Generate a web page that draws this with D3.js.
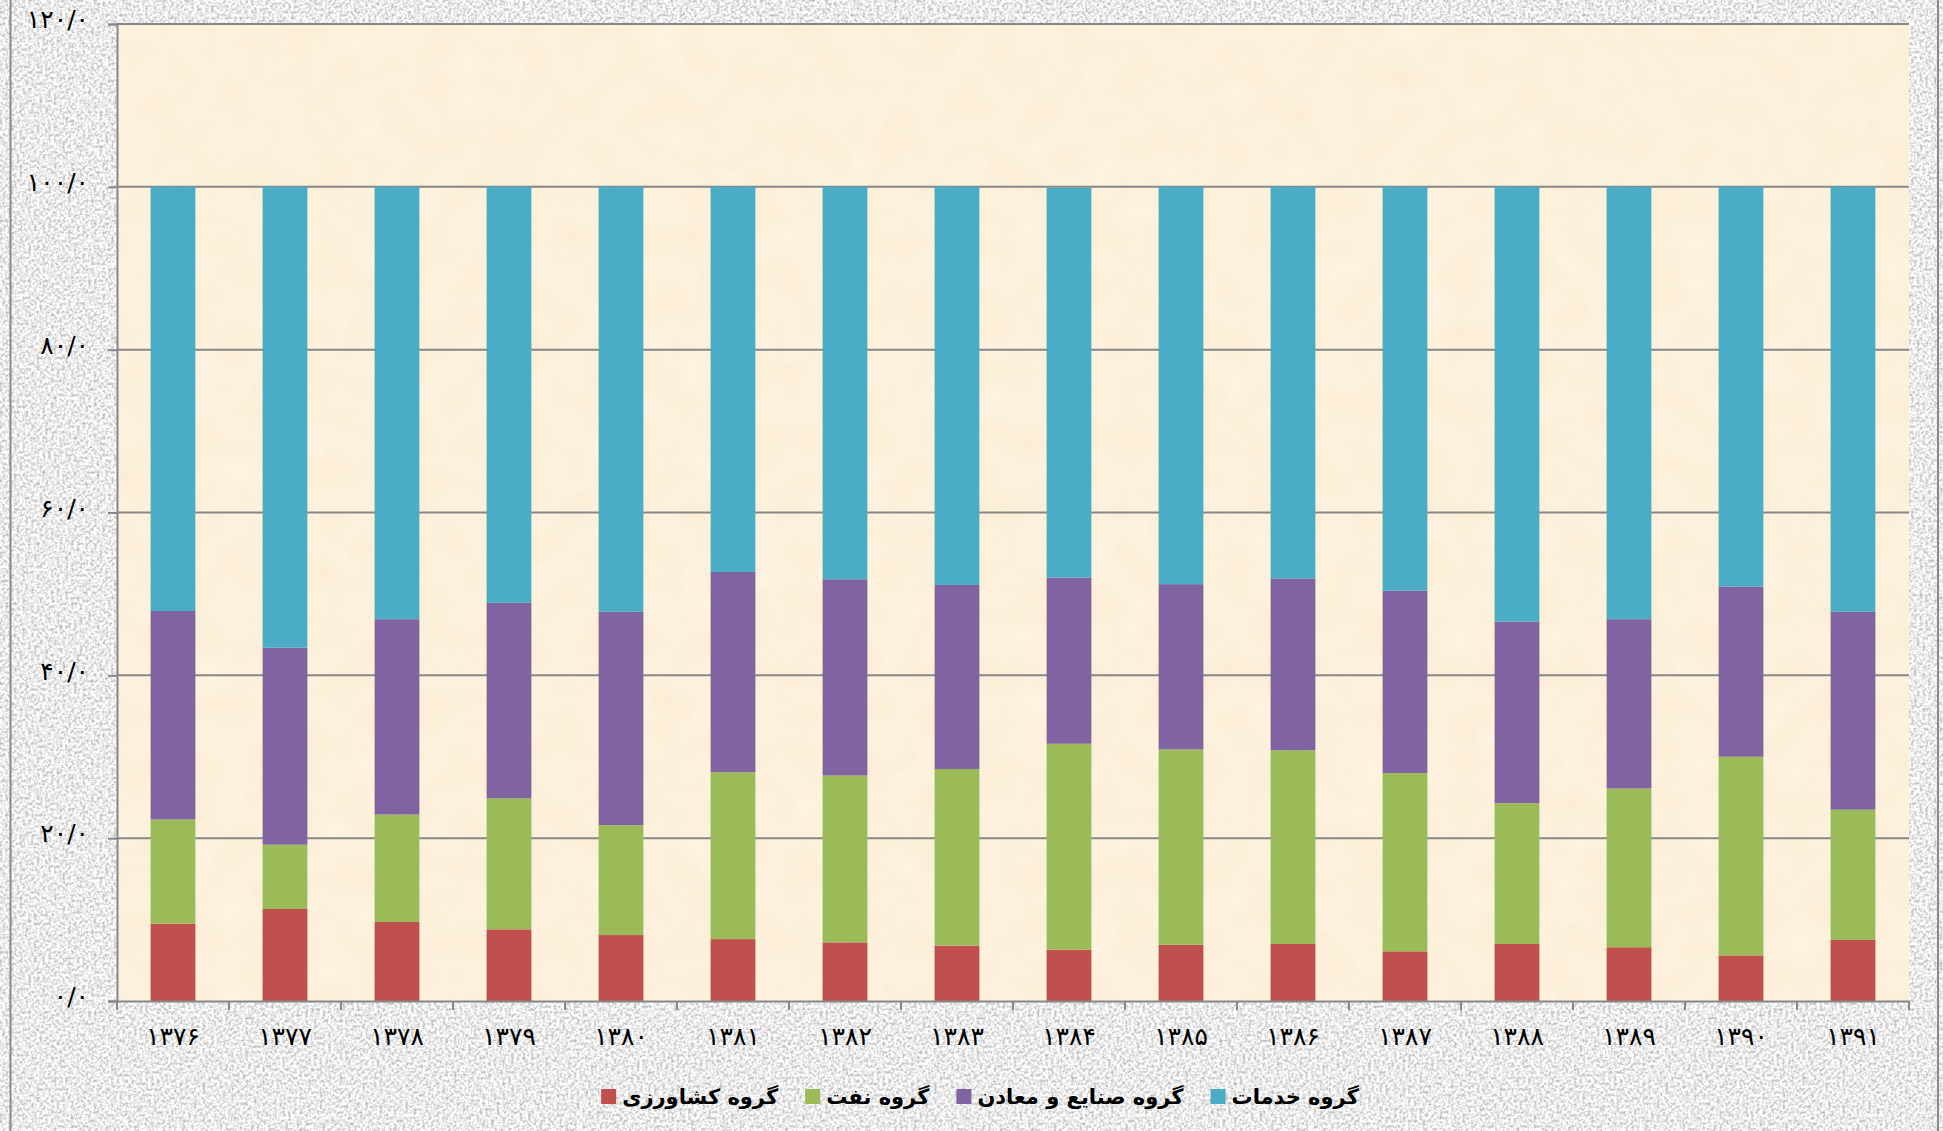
<!DOCTYPE html>
<html>
<head>
<meta charset="utf-8">
<script src="https://cdn.jsdelivr.net/npm/d3@7/dist/d3.min.js"></script>
<style>
  body { margin: 0; background: #e6e6e6; }
  svg { display: block; }
</style>
</head>
<body>
<svg id="chart"></svg>
<script>
// Years (Persian calendar) on the x axis
const years = ["۱۳۷۶", "۱۳۷۷", "۱۳۷۸", "۱۳۷۹", "۱۳۸۰", "۱۳۸۱", "۱۳۸۲", "۱۳۸۳",
  "۱۳۸۴", "۱۳۸۵", "۱۳۸۶", "۱۳۸۷", "۱۳۸۸", "۱۳۸۹", "۱۳۹۰", "۱۳۹۱"];

// Share of each sector (percent)
const agriculture = [9.5, 11.3, 9.7, 8.8, 8.1, 7.6, 7.2, 6.8, 6.3, 6.9, 7.0, 6.1, 7.0, 6.6, 5.6, 7.5];
const oil = [12.8, 7.9, 13.2, 16.1, 13.5, 20.5, 20.5, 21.7, 25.3, 24.0, 23.8, 21.9, 17.3, 19.5, 24.4, 16.0];
const industry = [25.6, 24.2, 24.0, 24.0, 26.2, 24.6, 24.1, 22.6, 20.4, 20.3, 21.1, 22.4, 22.3, 20.8, 20.9, 24.3];
const services = [52.1, 56.6, 53.1, 51.1, 52.2, 47.3, 48.2, 48.9, 47.9, 48.8, 48.1, 49.6, 53.4, 53.1, 49.1, 52.2];

const yTicks = [0, 20, 40, 60, 80, 100, 120];
const seriesKeys = ["agriculture", "oil", "industry", "services"];
const seriesNames = ["گروه کشاورزی", "گروه نفت", "گروه صنایع و معادن", "گروه خدمات"];
const seriesColors = ["#C0504D", "#9BBB59", "#8064A2", "#4BACC6"];

const toFa = (s) =>
  String(s).replace(/\d/g, (d) => "۰۱۲۳۴۵۶۷۸۹"[d]).replace(".", "/");

const W = 1943, H = 1131;
const margin = { top: 24, right: 34, bottom: 130, left: 117 };
const width = W - margin.left - margin.right;
const height = H - margin.top - margin.bottom;
const fontFamily = "'DejaVu Sans', sans-serif";
const axisColor = "#878787";

const svg = d3.select("#chart").attr("width", W).attr("height", H);

// Textures: grey paper outside, parchment inside the plot
const defs = svg.append("defs");
const grain = defs.append("filter").attr("id", "grain")
  .attr("color-interpolation-filters", "sRGB")
  .attr("x", 0).attr("y", 0).attr("width", "100%").attr("height", "100%");
grain.append("feTurbulence").attr("type", "fractalNoise")
  .attr("baseFrequency", 0.35).attr("numOctaves", 3).attr("seed", 4);
grain.append("feColorMatrix").attr("type", "matrix")
  .attr("values", "0.6 0 0 0 0.62  0.6 0 0 0 0.62  0.6 0 0 0 0.62  0 0 0 0 1");

const parchment = defs.append("filter").attr("id", "parchment")
  .attr("color-interpolation-filters", "sRGB")
  .attr("x", 0).attr("y", 0).attr("width", "100%").attr("height", "100%");
parchment.append("feTurbulence").attr("type", "fractalNoise")
  .attr("baseFrequency", 0.03).attr("numOctaves", 3).attr("seed", 7);
parchment.append("feColorMatrix").attr("type", "matrix")
  .attr("values", "0.02 0 0 0 0.982  0.035 0 0 0 0.925  0.06 0 0 0 0.83  0 0 0 0 1");

svg.append("rect").attr("width", W).attr("height", H).attr("filter", "url(#grain)");

// Outer frame (only the sides show)
svg.append("rect")
  .attr("x", 10.5).attr("y", -10)
  .attr("width", 1927.5).attr("height", H + 20)
  .attr("fill", "none").attr("stroke", "#8a8a8a").attr("stroke-width", 2);

const g = svg.append("g").attr("transform", `translate(${margin.left},${margin.top})`);

g.append("rect").attr("width", width).attr("height", height).attr("filter", "url(#parchment)");

// Build rows and stack them
const rows = years.map((year, i) => ({
  year,
  agriculture: agriculture[i],
  oil: oil[i],
  industry: industry[i],
  services: services[i],
}));
const stacked = d3.stack().keys(seriesKeys)(rows);

// Scales
const x = d3.scaleBand().domain(years).range([0, width]).paddingInner(0.6).paddingOuter(0.3);
const y = d3.scaleLinear().domain([0, 120]).range([height, 0]);

// Grid lines
g.append("g")
  .selectAll("line")
  .data(yTicks.filter((d) => d > 0))
  .enter()
  .append("line")
  .attr("x1", 0)
  .attr("x2", width)
  .attr("y1", (d) => y(d))
  .attr("y2", (d) => y(d))
  .attr("stroke", axisColor)
  .attr("stroke-width", 2);

// Bars
g.append("g")
  .selectAll("g")
  .data(stacked)
  .enter()
  .append("g")
  .attr("fill", (d, i) => seriesColors[i])
  .selectAll("rect")
  .data((d) => d)
  .enter()
  .append("rect")
  .attr("x", (d) => x(d.data.year))
  .attr("width", x.bandwidth())
  .attr("y", (d) => y(d[1]))
  .attr("height", (d) => y(d[0]) - y(d[1]));

// Y axis
const yAxis = g.append("g")
  .call(d3.axisLeft(y).tickValues(yTicks).tickSize(9).tickPadding(19)
    .tickFormat((d) => toFa(d.toFixed(1))));
yAxis.select(".domain").attr("stroke", axisColor).attr("stroke-width", 2);
yAxis.selectAll(".tick line").attr("stroke", axisColor).attr("stroke-width", 2);
yAxis.selectAll("text")
  .attr("dy", "0.15em")
  .style("font-family", fontFamily)
  .style("font-size", "25px")
  .style("fill", "#000");

// X axis: labels under each bar, ticks on category boundaries
const xAxis = g.append("g")
  .attr("transform", `translate(0,${height})`)
  .call(d3.axisBottom(x).tickSize(0).tickPadding(26));
xAxis.select(".domain").attr("stroke", axisColor).attr("stroke-width", 2);
xAxis.selectAll("text")
  .style("font-family", fontFamily)
  .style("font-size", "25px")
  .style("fill", "#000");

xAxis.append("g")
  .selectAll("line")
  .data(d3.range(years.length + 1))
  .enter()
  .append("line")
  .attr("x1", (i) => i * x.step())
  .attr("x2", (i) => i * x.step())
  .attr("y1", 0)
  .attr("y2", 9)
  .attr("stroke", axisColor)
  .attr("stroke-width", 2);

// Legend, centred under the plot
const legend = svg.append("g").attr("transform", "translate(0,1097)");
const items = seriesNames.map((name, i) => {
  const item = legend.append("g");
  item.append("rect")
    .attr("y", -8).attr("width", 15).attr("height", 15)
    .attr("fill", seriesColors[i]);
  const label = item.append("text")
    .attr("dy", "0.35em")
    .attr("text-anchor", "middle")
    .style("font-family", fontFamily)
    .style("font-size", "21px")
    .style("font-weight", "bold")
    .style("fill", "#000")
    .text(name);
  const w = label.node().getComputedTextLength();
  label.attr("x", 21 + w / 2);
  return { item, w: 21 + w };
});
const gap = 27;
const total = d3.sum(items, (d) => d.w) + gap * (items.length - 1);
let cursor = 980 - total / 2;
items.forEach((d) => {
  d.item.attr("transform", `translate(${cursor},0)`);
  cursor += d.w + gap;
});
</script>
</body>
</html>
